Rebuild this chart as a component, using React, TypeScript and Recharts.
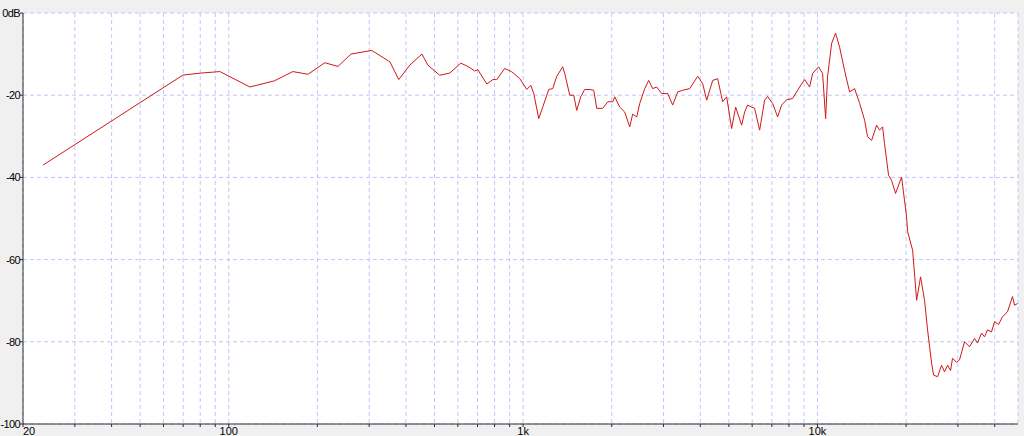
import { LineChart, Line, XAxis, YAxis, CartesianGrid } from "recharts";

// frequency (Hz) and level (dB) read from the measured response
const freqs = [
  23.4, 69.9, 81, 93.3, 118, 143, 165, 186, 212, 235, 260, 306, 353, 378, 412, 453, 475, 521, 564, 614,
  649, 685, 702, 753, 789, 814, 866, 915, 974, 1029, 1062, 1087, 1130, 1166, 1222, 1261, 1301, 1363, 1385, 1440,
  1486, 1521, 1569, 1619, 1684, 1738, 1779, 1864, 1939, 2016, 2048, 2129, 2214, 2302, 2357, 2432, 2490, 2589, 2671, 2755,
  2843, 2957, 3099, 3222, 3351, 3484, 3681, 3919, 4074, 4204, 4406, 4581, 4764, 4915, 5110, 5273, 5526, 5656, 5790, 5975,
  6117, 6361, 6615, 6771, 7041, 7322, 7555, 7857, 8234, 8698, 9046, 9405, 9627, 10090, 10410, 10660, 10820, 11170, 11520, 11890,
  12460, 12860, 13370, 13910, 14460, 14800, 15280, 15880, 16260, 16640, 16900, 17440, 17850, 18420, 19310, 20080, 20240, 21050, 21720, 22400,
  23110, 23660, 24420, 24800, 25590, 26400, 27020, 27670, 28320, 28760, 29680, 30380, 31600, 32860, 34170, 34980, 36090, 36950, 37820, 39020,
  39950, 41220, 42530, 44220, 45980, 46710, 47820,
];

const levels = [
  -37.0, -15.1, -14.6, -14.25, -18.0, -16.5, -14.25, -14.9, -12.1, -13.0, -10.0, -9.1, -11.9, -16.2, -12.7, -10.0, -12.7, -15.15, -14.6, -12.2,
  -13.0, -14.1, -13.8, -17.3, -16.2, -16.2, -13.5, -14.3, -15.95, -18.6, -17.6, -19.6, -25.7, -22.9, -18.6, -18.4, -15.4, -13.1, -14.7, -20.0,
  -20.0, -23.7, -20.4, -18.6, -18.6, -18.8, -23.2, -23.2, -21.6, -21.6, -20.4, -22.9, -24.1, -27.7, -24.6, -25.3, -22.0, -18.4, -16.4, -18.4,
  -18.0, -19.6, -19.6, -22.4, -19.2, -18.8, -18.4, -15.4, -17.2, -21.2, -16.4, -16.0, -21.6, -20.4, -28.1, -22.9, -27.3, -24.1, -22.4, -22.9,
  -23.2, -28.5, -21.2, -20.3, -22.0, -25.3, -22.4, -21.1, -20.8, -18.0, -16.2, -18.0, -14.7, -13.1, -14.7, -25.7, -15.6, -7.4, -4.9, -8.3,
  -15.1, -19.2, -18.4, -22.0, -26.1, -30.1, -31.0, -27.3, -28.5, -27.7, -31.8, -39.5, -40.7, -43.9, -39.9, -49.6, -53.2, -57.7, -69.9, -64.2,
  -69.9, -77.1, -85.2, -88.1, -88.5, -85.7, -87.3, -85.7, -87.0, -84.0, -85.0, -84.4, -80.0, -81.2, -79.2, -80.3, -77.9, -78.8, -77.1, -77.6,
  -75.1, -75.8, -73.9, -72.7, -69.0, -71.1, -70.7,
];

const xTicks = [
  20, 30, 40, 50, 60, 70, 80, 90, 100, 200, 300, 400, 500, 600, 700, 800, 900,
  1000, 2000, 3000, 4000, 5000, 6000, 7000, 8000, 9000, 10000, 20000, 30000, 40000,
];
const xLabels: Record<number, string> = { 20: "20", 100: "100", 1000: "1k", 10000: "10k" };
const yTicks = [0, -20, -40, -60, -80, -100];

const data = freqs.map((f, i) => ({ f, db: levels[i] }));

function FreqTick(props: any) {
  const { x, y, payload } = props;
  const label = xLabels[payload.value];
  if (!label) return null;
  return (
    <text x={x} y={y} dy="0.71em" fill="#000" fontSize={11} textAnchor={payload.value === 20 ? "start" : "middle"}>
      {label}
    </text>
  );
}

function LevelTick(props: any) {
  const { x, y, payload } = props;
  const v = payload.value as number;
  return (
    <text x={x} y={y} dy="0.355em" fill="#000" fontSize={11} letterSpacing={-0.6} textAnchor="end">
      {v === 0 ? "0dB" : String(v)}
    </text>
  );
}

export default function App() {
  return (
    <div
      style={{
        position: "absolute",
        left: 0,
        top: 0,
        width: 1024,
        height: 436,
        background: "#f0f0f0",
        fontFamily: "'Liberation Sans', Arial, sans-serif",
      }}
    >
      <LineChart width={1024} height={436} data={data} margin={{ top: 13, right: 6, bottom: 0, left: 0 }}>
        <CartesianGrid stroke="#c4c4fa" strokeDasharray="4 3" fill="#ffffff" />
        <XAxis
          dataKey="f"
          type="number"
          scale="log"
          domain={[20, 48000]}
          allowDataOverflow
          ticks={xTicks}
          interval={0}
          height={12}
          tickSize={3}
          tickMargin={0}
          tick={<FreqTick />}
          axisLine={{ stroke: "#303030" }}
          tickLine={{ stroke: "#303030" }}
        />
        <XAxis xAxisId="top" orientation="top" dataKey="f" type="number" scale="log" domain={[20, 48000]} height={0} tick={false} tickLine={false} axisLine={{ stroke: "#404040" }} />
        <YAxis
          type="number"
          domain={[-100, 0]}
          ticks={yTicks}
          interval={0}
          width={23}
          tickSize={3}
          tickMargin={0}
          tick={<LevelTick />}
          axisLine={{ stroke: "#303030" }}
          tickLine={{ stroke: "#303030" }}
        />
        <YAxis yAxisId="right" orientation="right" type="number" domain={[-100, 0]} width={0} tick={false} tickLine={false} axisLine={{ stroke: "#404040" }} />
        <Line type="linear" dataKey="db" stroke="#d01818" strokeWidth={1} dot={false} isAnimationActive={false} />
      </LineChart>
    </div>
  );
}
